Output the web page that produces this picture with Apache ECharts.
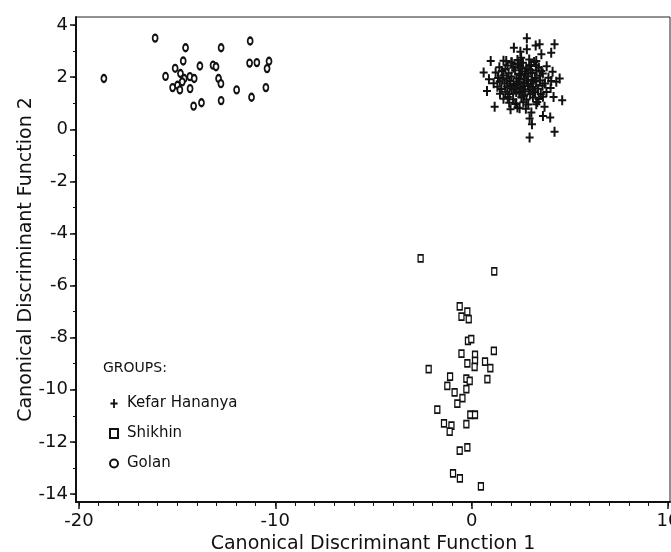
<!DOCTYPE html>
<html>
<head>
<meta charset="utf-8" />
<title>Canonical Discriminant Functions</title>
<script src="https://cdn.jsdelivr.net/npm/echarts@6/dist/echarts.min.js"></script>
<style>
  html, body { margin: 0; padding: 0; background: #fff; }
  #chart { width: 671px; height: 552px; }
</style>
</head>
<body>
<div id="chart"></div>
<script type="text/javascript">
// tick labels
var xTicks = [-20, -10, 0, 10];
var xMinor = [-20,-19,-18,-17,-16,-15,-14,-13,-12,-11,-10,-9,-8,-7,-6,-5,-4,-3,-2,-1,0,1,2,3,4,5,6,7,8,9,10];
var yTicks = [4, 2, 0, -2, -4, -6, -8, -10, -12, -14];
var yMinor = [4,3,2,1,0,-1,-2,-3,-4,-5,-6,-7,-8,-9,-10,-11,-12,-13,-14];

// Kefar Hananya (+)
var kefarHananya = [
  [2.81,3.49],[2.15,3.13],[2.48,2.98],[2.81,3.07],[3.26,3.22],[3.46,3.26],[4.22,3.26],[4.05,2.94],
  [3.29,2.62],[3.55,2.88],[0.97,2.62],[0.61,2.18],[0.88,1.92],[4.48,1.95],[4.05,1.85],[1.76,2.62],
  [2.02,2.56],[2.52,2.75],[2.95,2.43],[3.55,2.24],
  [0.78,1.47],[1.17,0.86],[1.98,0.77],[2.44,0.81],[3.04,0.64],[2.95,0.41],[3.07,0.19],[3.63,0.51],
  [4.00,0.45],[4.61,1.11],[4.17,1.24],[4.22,-0.10],[2.95,-0.32],[3.71,0.86],[2.27,0.99],[3.29,0.96],
  [1.62,2.63],[2.04,2.57],[2.33,2.66],[2.61,2.55],[2.93,2.68],[3.18,2.58],
  [1.41,2.38],[1.83,2.45],[2.12,2.36],[2.47,2.43],[2.78,2.34],[3.03,2.47],[3.42,2.37],[3.82,2.42],
  [1.22,2.18],[1.53,2.24],[1.88,2.15],[2.21,2.27],[2.42,2.13],[2.73,2.22],[3.08,2.16],[3.31,2.25],[3.62,2.14],[4.12,2.21],
  [1.34,1.97],[1.61,2.06],[1.79,1.95],[2.02,2.03],[2.28,1.96],[2.51,2.07],[2.64,1.94],[2.88,2.04],[3.22,1.97],[3.47,2.05],[3.91,1.98],
  [1.12,1.77],[1.43,1.84],[1.68,1.76],[1.92,1.85],[2.13,1.74],[2.38,1.83],[2.69,1.78],[2.82,1.86],[3.01,1.75],[3.28,1.83],[3.73,1.76],[4.31,1.82],
  [1.31,1.63],[1.52,1.55],[1.81,1.64],[2.03,1.57],[2.18,1.66],[2.49,1.58],[2.62,1.65],[2.91,1.54],[3.12,1.63],[3.38,1.56],[3.61,1.67],[4.02,1.58],
  [1.44,1.36],[1.71,1.44],[1.93,1.35],[2.27,1.43],[2.42,1.37],[2.71,1.45],[2.98,1.34],[3.23,1.42],[3.52,1.35],[3.81,1.43],
  [1.62,1.17],[1.84,1.24],[2.11,1.15],[2.53,1.23],[2.79,1.14],[3.12,1.22],[3.41,1.16],[3.63,1.25],
  [1.91,1.02],[2.22,0.97],[2.63,1.04],[2.88,0.95],[3.34,1.05],
  [2.33,0.84],[2.76,0.79],
  [1.72,2.31],[2.36,2.51],[2.57,2.33],[2.99,2.28],[3.27,2.46],[1.98,1.68],[2.34,1.72],[2.58,1.48],[2.87,1.68],[3.05,1.89],
  [2.16,1.52],[2.44,1.92],[2.71,2.12],[3.17,1.46],[1.56,1.95],[2.67,1.29],[3.48,1.88]
];

// Shikhin (square)
var shikhin = [
  [-2.60,-4.96],[1.15,-5.46],[-0.61,-6.80],[-0.22,-7.00],[-0.52,-7.19],[-0.15,-7.29],[-0.19,-8.12],[-0.02,-8.06],
  [-0.52,-8.61],[1.13,-8.51],[0.17,-8.66],[-0.22,-8.99],[0.17,-8.89],[0.15,-9.12],[0.68,-8.92],[0.95,-9.17],
  [-2.19,-9.21],[-1.10,-9.50],[-0.27,-9.57],[-0.10,-9.66],[0.80,-9.59],[-1.24,-9.85],[-0.27,-9.98],[-0.87,-10.10],
  [-0.47,-10.32],[-0.73,-10.53],[-1.75,-10.76],[-0.07,-10.96],[0.17,-10.96],[-1.41,-11.29],[-1.03,-11.38],[-1.12,-11.61],
  [-0.27,-11.32],[-0.61,-12.34],[-0.22,-12.21],[-0.95,-13.21],[-0.60,-13.40],[0.47,-13.71]
];

// Golan (diamond)
var golan = [
  [-18.73,1.95],[-16.12,3.50],[-14.57,3.13],[-12.76,3.13],[-11.28,3.39],[-14.69,2.62],[-13.84,2.43],[-13.17,2.46],
  [-13.02,2.40],[-15.10,2.34],[-15.59,2.03],[-14.83,2.14],[-14.64,1.95],[-14.35,2.02],[-14.13,1.95],[-14.74,1.82],
  [-14.98,1.69],[-15.23,1.60],[-14.86,1.51],[-14.34,1.56],[-12.89,1.95],[-12.77,1.75],[-14.16,0.89],[-13.76,1.02],
  [-12.76,1.10],[-11.97,1.51],[-11.21,1.23],[-11.31,2.54],[-10.94,2.56],[-10.32,2.61],[-10.42,2.33],[-10.48,1.60]
];

var font = '"DejaVu Sans", "Liberation Sans", Arial, sans-serif';
var plusPath = 'path://M3,0H5V4H8V6H5V10H3V6H0V4H3Z';

var myChart = echarts.init(document.getElementById('chart'));
var option = {
  animation: false,
  backgroundColor: '#fff',
  grid: {
    left: 76, right: 1, top: 17, bottom: 50,
    outerBoundsMode: 'none',
    show: true, borderColor: '#222', borderWidth: 1, backgroundColor: 'transparent'
  },
  legend: {
    orient: 'vertical',
    left: 104, top: 391,
    itemWidth: 8, itemHeight: 9, itemGap: 15,
    textStyle: { fontFamily: font, fontSize: 15, color: '#111', padding: [0, 0, 0, 4] },
    data: ['Kefar Hananya', 'Shikhin', 'Golan']
  },
  graphic: [{
    type: 'text', left: 103, top: 361,
    style: { text: 'GROUPS:', font: '14px ' + font, fill: '#111' }
  }],
  xAxis: [{
    type: 'value', min: -20.15, max: 10.1,
    name: 'Canonical Discriminant Function 1', nameLocation: 'middle', nameGap: 31,
    nameTextStyle: { fontFamily: font, fontSize: 19, color: '#111' },
    axisLine: { show: true, onZero: false, lineStyle: { color: '#111', width: 2 } },
    axisTick: { show: true, length: 7, customValues: xTicks, lineStyle: { color: '#111', width: 1.5 } },
    axisLabel: { show: true, customValues: xTicks, margin: 10, fontFamily: font, fontSize: 18, color: '#111' },
    splitLine: { show: false }
  }, {
    type: 'value', min: -20.15, max: 10.1, position: 'bottom',
    axisLine: { show: false, onZero: false },
    axisTick: { show: true, length: 4, customValues: xMinor, lineStyle: { color: '#111', width: 1 } },
    axisLabel: { show: false },
    splitLine: { show: false }
  }],
  yAxis: [{
    type: 'value', min: -14.31, max: 4.31,
    name: 'Canonical Discriminant Function 2', nameLocation: 'middle', nameGap: 40,
    nameMoveOverlap: false,
    nameTextStyle: { fontFamily: font, fontSize: 19, color: '#111' },
    axisLine: { show: true, onZero: false, lineStyle: { color: '#111', width: 2 } },
    axisTick: { show: true, length: 6, customValues: yTicks, lineStyle: { color: '#111', width: 1.5 } },
    axisLabel: { show: true, customValues: yTicks, margin: 8, fontFamily: font, fontSize: 18, color: '#111' },
    splitLine: { show: false }
  }, {
    type: 'value', min: -14.31, max: 4.31, position: 'left',
    axisLine: { show: false, onZero: false },
    axisTick: { show: true, length: 3, customValues: yMinor, lineStyle: { color: '#111', width: 1 } },
    axisLabel: { show: false },
    splitLine: { show: false }
  }],
  series: [{
    name: 'Kefar Hananya',
    type: 'scatter',
    data: kefarHananya,
    symbol: plusPath,
    symbolSize: [8, 10],
    itemStyle: { color: '#111', opacity: 1 }
  }, {
    name: 'Shikhin',
    type: 'scatter',
    data: shikhin,
    symbol: 'rect',
    symbolSize: [5, 7],
    itemStyle: { color: '#fff', borderColor: '#111', borderWidth: 1.5, opacity: 1 }
  }, {
    name: 'Golan',
    type: 'scatter',
    data: golan,
    symbol: 'circle',
    symbolSize: [5, 7],
    itemStyle: { color: '#fff', borderColor: '#111', borderWidth: 2, opacity: 1 }
  }]
};
myChart.setOption(option);
</script>
</body>
</html>
